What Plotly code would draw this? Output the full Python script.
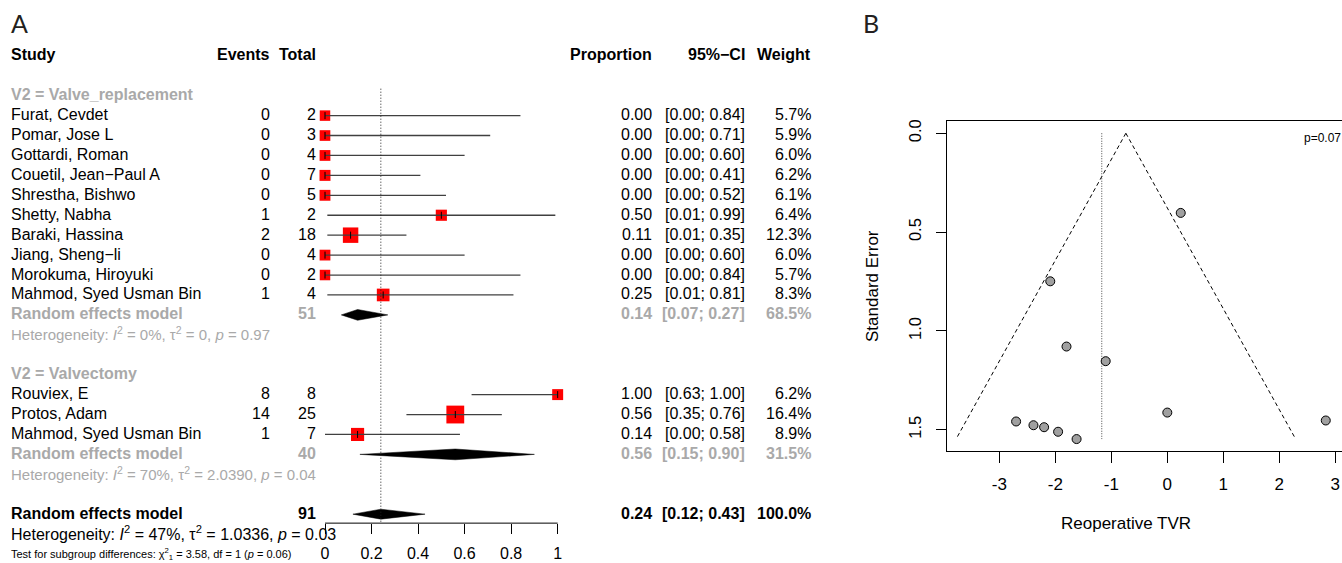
import plotly.graph_objects as go

W, H = 1342, 563

# ---------------- data: forest plot (panel A) ----------------
g1_label = "V2 = Valve_replacement"
g1_study = ["Furat, Cevdet", "Pomar, Jose L", "Gottardi, Roman", "Couetil, Jean\u2212Paul A",
            "Shrestha, Bishwo", "Shetty, Nabha", "Baraki, Hassina", "Jiang, Sheng\u2212li",
            "Morokuma, Hiroyuki", "Mahmod, Syed Usman Bin"]
g1_events = [0, 0, 0, 0, 0, 1, 2, 0, 0, 1]
g1_total = [2, 3, 4, 7, 5, 2, 18, 4, 2, 4]
g1_prop = [0.00, 0.00, 0.00, 0.00, 0.00, 0.50, 0.11, 0.00, 0.00, 0.25]
g1_lo = [0.00, 0.00, 0.00, 0.00, 0.00, 0.01, 0.01, 0.00, 0.00, 0.01]
g1_hi = [0.84, 0.71, 0.60, 0.41, 0.52, 0.99, 0.35, 0.60, 0.84, 0.81]
g1_weight = [5.7, 5.9, 6.0, 6.2, 6.1, 6.4, 12.3, 6.0, 5.7, 8.3]
g1_re = dict(total=51, est=0.14, lo=0.07, hi=0.27, weight=68.5)
g1_het = "Heterogeneity: <i>I</i><sup>2</sup> = 0%, \u03c4<sup>2</sup> = 0, <i>p</i> = 0.97"

g2_label = "V2 = Valvectomy"
g2_study = ["Rouviex, E", "Protos, Adam", "Mahmod, Syed Usman Bin"]
g2_events = [8, 14, 1]
g2_total = [8, 25, 7]
g2_prop = [1.00, 0.56, 0.14]
g2_lo = [0.63, 0.35, 0.00]
g2_hi = [1.00, 0.76, 0.58]
g2_weight = [6.2, 16.4, 8.9]
g2_re = dict(total=40, est=0.56, lo=0.15, hi=0.90, weight=31.5)
g2_het = "Heterogeneity: <i>I</i><sup>2</sup> = 70%, \u03c4<sup>2</sup> = 2.0390, <i>p</i> = 0.04"

all_re = dict(total=91, est=0.24, lo=0.12, hi=0.43, weight=100.0)
all_het = "Heterogeneity: <i>I</i><sup>2</sup> = 47%, \u03c4<sup>2</sup> = 1.0336, <i>p</i> = 0.03"
test_text = "Test for subgroup differences: \u03c7<sup>2</sup><sub>1</sub> = 3.58, df = 1 (<i>p</i> = 0.06)"

forest_ticks = [0, 0.2, 0.4, 0.6, 0.8, 1]
forest_ticktext = ["0", "0.2", "0.4", "0.6", "0.8", "1"]
headers = ["Study", "Events", "Total", "Proportion", "95%\u2212CI", "Weight"]

# ---------------- data: funnel plot (panel B) ----------------
funnel_te = [0.24, -2.09, -1.80, -1.10, 0.00, 2.83, -2.70, -2.39, -2.20, -1.95, -1.62]
funnel_se = [0.403, 0.749, 1.079, 1.153, 1.413, 1.453, 1.458, 1.477, 1.487, 1.510, 1.547]
funnel_center = -0.74
funnel_ref = -1.17
funnel_se_max = 1.547
funnel_xticks = [-3, -2, -1, 0, 1, 2, 3]
funnel_yticks = [0.0, 0.5, 1.0, 1.5]
funnel_p = "p=0.07"

# ---------------- layout constants ----------------
FONT = "Liberation Sans, Arial, Helvetica, sans-serif"
LFONT = "Lato, Open Sans, sans-serif"
GRAY = "#A9A9A9"
ROW0, ROWH = 54.0, 20.0          # pixel y of row 0, row height
X0PX, PXU = 325.0, 232.67        # forest: pixel of 0, pixels per unit
FOREST_RIGHT = 850.0

def row_of(py):
    return (py - ROW0) / ROWH

# rows
R_HEAD = 0
R_G1 = 2
R_G1S = list(range(3, 3 + len(g1_study)))
R_G1RE = R_G1S[-1] + 1
R_G1HET = R_G1RE + 1
R_G2 = R_G1HET + 2
R_G2S = list(range(R_G2 + 1, R_G2 + 1 + len(g2_study)))
R_G2RE = R_G2S[-1] + 1
R_G2HET = R_G2RE + 1
R_ALL = R_G2HET + 2
R_ALLHET = R_ALL + 1
R_TEST = R_ALLHET + 1.05
R_AXIS = row_of(523)

# column x (pixels)
C_STUDY, C_EV, C_TOT, C_PROP, C_CI, C_W = 10, 271, 317, 653, 746, 812

TXT_DY = -0.05  # vertical tweak in rows

annotations = []

def txt(xp, r, s, anchor="left", size=16, color="black", bold=False):
    if bold:
        s = "<b>" + s + "</b>"
    annotations.append(dict(
        x=xp / W, xref="paper", y=r + TXT_DY, yref="y", text=s, showarrow=False,
        xanchor=anchor, yanchor="middle", borderpad=0,
        font=dict(family=FONT, size=size, color=color)))

# headers
for h, cx, anc in zip(headers, [C_STUDY, C_EV, C_TOT, C_PROP, C_CI, C_W],
                      ["left", "right", "right", "right", "right", "right"]):
    txt(cx, R_HEAD, h, anc, bold=True)

def study_rows(rows, names, ev, tot, prop, lo, hi, w):
    for r, n, e, t, p, l, u, ww in zip(rows, names, ev, tot, prop, lo, hi, w):
        txt(C_STUDY, r, n)
        txt(C_EV, r, str(e), "right")
        txt(C_TOT, r, str(t), "right")
        txt(C_PROP, r, f"{p:.2f}", "right")
        txt(C_CI, r, f"[{l:.2f}; {u:.2f}]", "right")
        txt(C_W, r, f"{ww:.1f}%", "right")

def summary_row(r, label, d, color):
    txt(C_STUDY, r, label, color=color, bold=True)
    txt(C_TOT, r, str(d["total"]), "right", color=color, bold=True)
    txt(C_PROP, r, f"{d['est']:.2f}", "right", color=color, bold=True)
    txt(C_CI, r, f"[{d['lo']:.2f}; {d['hi']:.2f}]", "right", color=color, bold=True)
    txt(C_W, r, f"{d['weight']:.1f}%", "right", color=color, bold=True)

txt(C_STUDY, R_G1, g1_label, color=GRAY, bold=True)
study_rows(R_G1S, g1_study, g1_events, g1_total, g1_prop, g1_lo, g1_hi, g1_weight)
summary_row(R_G1RE, "Random effects model", g1_re, GRAY)
txt(C_STUDY, R_G1HET, g1_het, size=15, color=GRAY)

txt(C_STUDY, R_G2, g2_label, color=GRAY, bold=True)
study_rows(R_G2S, g2_study, g2_events, g2_total, g2_prop, g2_lo, g2_hi, g2_weight)
summary_row(R_G2RE, "Random effects model", g2_re, GRAY)
txt(C_STUDY, R_G2HET, g2_het, size=15, color=GRAY)

summary_row(R_ALL, "Random effects model", all_re, "black")
txt(C_STUDY, R_ALLHET, all_het, size=16)
txt(C_STUDY, R_TEST, test_text, size=11)

fig = go.Figure()

# squares
rows_s = R_G1S + R_G2S
props = g1_prop + g2_prop
los = g1_lo + g2_lo
his = g1_hi + g2_hi
wts = g1_weight + g2_weight
fig.add_trace(go.Scatter(
    x=props, y=rows_s, mode="markers", xaxis="x", yaxis="y",
    marker=dict(symbol="square", color="#FF0000", opacity=1,
                size=[4.4 * w ** 0.5 for w in wts],
                line=dict(width=0)), hoverinfo="skip"))

# CI lines
cx, cy = [], []
for l, u, r in zip(los, his, rows_s):
    cx += [l, u, None]
    cy += [r, r, None]
fig.add_trace(go.Scatter(x=cx, y=cy, mode="lines", xaxis="x", yaxis="y",
                         line=dict(color="#404040", width=1.3), hoverinfo="skip"))
# estimate ticks
fig.add_trace(go.Scatter(x=props, y=rows_s, mode="markers", xaxis="x", yaxis="y",
                         marker=dict(symbol="line-ns", size=5, line=dict(color="black", width=1)),
                         hoverinfo="skip"))

# diamonds
dx, dy = [], []
for r, d, hh in [(R_G1RE, g1_re, 0.27), (R_G2RE, g2_re, 0.27), (R_ALL, all_re, 0.25)]:
    dx += [d["lo"], d["est"], d["hi"], d["est"], d["lo"], None]
    dy += [r, r - hh, r, r + hh, r, None]
fig.add_trace(go.Scatter(x=dx, y=dy, mode="lines", fill="toself", fillcolor="black",
                         xaxis="x", yaxis="y", line=dict(color="black", width=0.5),
                         hoverinfo="skip"))

# reference (dotted) line at overall estimate
fig.add_trace(go.Scatter(x=[all_re["est"], all_re["est"]], y=[row_of(87), R_AXIS], mode="lines",
                         xaxis="x", yaxis="y", line=dict(color="#222222", width=1, dash="1px,2px"),
                         hoverinfo="skip"))
# forest axis line
fig.add_trace(go.Scatter(x=[forest_ticks[0], forest_ticks[-1]], y=[R_AXIS, R_AXIS], mode="lines",
                         xaxis="x", yaxis="y", line=dict(color="black", width=1), hoverinfo="skip"))

# ---------------- funnel ----------------
se_line = [0.0, funnel_se_max]
fig.add_trace(go.Scatter(x=[funnel_center - 1.96 * s for s in se_line], y=se_line, mode="lines",
                         xaxis="x2", yaxis="y2", line=dict(color="black", width=1, dash="4px,3px"),
                         hoverinfo="skip"))
fig.add_trace(go.Scatter(x=[funnel_center + 1.96 * s for s in se_line], y=se_line, mode="lines",
                         xaxis="x2", yaxis="y2", line=dict(color="black", width=1, dash="4px,3px"),
                         hoverinfo="skip"))
fig.add_trace(go.Scatter(x=[funnel_ref, funnel_ref], y=se_line, mode="lines",
                         xaxis="x2", yaxis="y2", line=dict(color="#444444", width=1, dash="1px,1.5px"),
                         hoverinfo="skip"))
fig.add_trace(go.Scatter(x=funnel_te, y=funnel_se, mode="markers", xaxis="x2", yaxis="y2",
                         marker=dict(symbol="circle", size=9, color="#A0A0A0",
                                     line=dict(color="black", width=1)), hoverinfo="skip"))

# funnel geometry (pixels)
B_LEFT, B_TOP, B_BOT = 946.7, 119.3, 450.5
FX0, FPXU = 1167.3, 56.0
FY0, FPYU = 131.7, 198.4

def pann(xp, yp, s, size, family=FONT, color="black", angle=0):
    annotations.append(dict(x=xp / W, y=1 - yp / H, xref="paper", yref="paper", text=s,
                            xanchor="center", yanchor="middle", textangle=angle,
                            showarrow=False, font=dict(family=family, size=size, color=color)))

# panel labels and funnel texts
pann(19, 21, "A", 25, LFONT, "#231F20")
pann(871, 21, "B", 25, LFONT, "#231F20")
pann(1322, 136, funnel_p, 12)
pann(873, 285, "Standard Error", 17, angle=-90)
pann(1126, 523, "Reoperative TVR", 17)

fig.update_layout(
    width=W, height=H, margin=dict(l=0, r=0, t=0, b=0),
    paper_bgcolor="white", plot_bgcolor="white", showlegend=False,
    annotations=annotations,
    xaxis=dict(domain=[0, FOREST_RIGHT / W],
               range=[(0 - X0PX) / PXU, (FOREST_RIGHT - X0PX) / PXU],
               anchor="free", position=1 - 523 / H,
               tickvals=forest_ticks, ticktext=forest_ticktext, ticks="outside", ticklen=10,
               tickwidth=1, tickcolor="black", showline=False, showgrid=False, zeroline=False,
               ticklabelstandoff=6,
               tickfont=dict(family=FONT, size=16, color="black")),
    yaxis=dict(domain=[0, 1], range=[row_of(H), row_of(0)], visible=False),
    xaxis2=dict(domain=[B_LEFT / W, 1.0],
                range=[(B_LEFT - FX0) / FPXU, (W - FX0) / FPXU],
                anchor="y2", showline=True, mirror=True, linecolor="black", linewidth=1,
                ticks="outside", ticklen=11, tickwidth=1, tickcolor="black",
                tickvals=funnel_xticks, ticktext=[str(v) for v in funnel_xticks],
                showgrid=False, zeroline=False, ticklabelstandoff=7,
                tickfont=dict(family=FONT, size=17, color="black")),
    yaxis2=dict(domain=[1 - B_BOT / H, 1 - B_TOP / H],
                range=[(B_BOT - FY0) / FPYU, (B_TOP - FY0) / FPYU],
                anchor="x2", showline=True, mirror=False, linecolor="black", linewidth=1,
                ticks="outside", ticklen=10, tickwidth=1, tickcolor="black",
                tickvals=funnel_yticks, ticktext=[f"{v:.1f}" for v in funnel_yticks],
                tickangle=-90, showgrid=False, zeroline=False, ticklabelstandoff=8,
                tickfont=dict(family=FONT, size=16.5, color="black")),
)

fig.write_html("out.html", config={"displayModeBar": False},
               post_script="document.body.style.margin='0';document.body.style.overflow='hidden';")
